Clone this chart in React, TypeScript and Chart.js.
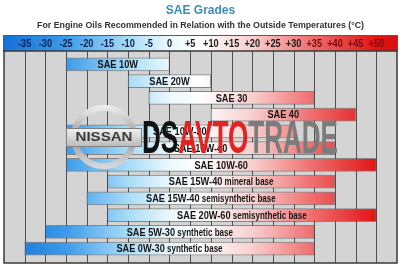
import { useEffect, useRef } from "react";
import { Chart, registerables } from "chart.js";

Chart.register(...registerables);

const TITLE = "SAE Grades";
const SUBTITLE = "For Engine Oils Recommended in Relation with the Outside Temperatures (°C)";

const grades = [
  "SAE 10W",
  "SAE 20W",
  "SAE 30",
  "SAE 40",
  "SAE 10W-30",
  "SAE 10W-40",
  "SAE 10W-60",
  "SAE 15W-40",
  "SAE 15W-40",
  "SAE 20W-60",
  "SAE 5W-30",
  "SAE 0W-30",
];
const notes = ["", "", "", "", "", "", "", "mineral base", "semisynthetic base", "semisynthetic base", "synthetic base", "synthetic base"];
const lowTemps = [-25, -10, -5, 10, -25, -25, -25, -15, -20, -15, -30, -35];
const highTemps = [0, 10, 35, 45, 30, 40, 50, 40, 40, 50, 35, 35];

const tickValues = [-35, -30, -25, -20, -15, -10, -5, 0, 5, 10, 15, 20, 25, 30, 35, 40, 45, 50];
const tickLabels = ["-35", "-30", "-25", "-20", "-15", "-10", "-5", "0", "+5", "+10", "+15", "+20", "+25", "+30", "+35", "+40", "+45", "+50"];

const TEMP_MIN = -40;
const TEMP_MAX = 55;
const gradientTemps = [-40, -25, -10, 0, 7, 20, 35, 50, 55];
const gradientColors = ["#1670d8", "#3c9bea", "#a8dcf7", "#eaf8fd", "#ffffff", "#f9cfcf", "#ef6b6b", "#e01414", "#d80e0e"];

const WATERMARK = ["DS", "AVTO", "TRADE"];
const WATERMARK_COLORS = ["#111111", "#e32222", "#7c7c7c"];
const LOGO_TEXT = "NISSAN";

const SANS = "'Liberation Sans', Arial, sans-serif";
const SQUEEZE = 0.8;

function makeGradient(ctx: CanvasRenderingContext2D, left: number, right: number) {
  const g = ctx.createLinearGradient(left, 0, right, 0);
  gradientTemps.forEach((t, i) => {
    g.addColorStop((t - TEMP_MIN) / (TEMP_MAX - TEMP_MIN), gradientColors[i]);
  });
  return g;
}

function narrowWidth(ctx: CanvasRenderingContext2D, text: string, font: string) {
  ctx.font = font;
  return ctx.measureText(text).width * SQUEEZE;
}

function drawNarrow(ctx: CanvasRenderingContext2D, text: string, x: number, y: number, font: string, align: CanvasTextAlign) {
  ctx.save();
  ctx.font = font;
  ctx.textAlign = align;
  ctx.textBaseline = "middle";
  ctx.translate(x, y);
  ctx.scale(SQUEEZE, 1);
  ctx.fillText(text, 0, 0);
  ctx.restore();
}

const decorPlugin = {
  id: "decor",
  beforeDatasetsDraw(chart: any) {
    const { ctx, chartArea, scales } = chart;
    const x = scales.x;
    const left = chartArea.left;
    const right = chartArea.right;
    const bodyTop = chartArea.top - 5;
    const bodyBottom = chartArea.bottom + 6;
    const headTop = 35;
    const headBottom = bodyTop;
    ctx.save();
    // title
    ctx.textAlign = "center";
    ctx.textBaseline = "middle";
    ctx.fillStyle = "#3b8cb8";
    ctx.font = `bold 12px ${SANS}`;
    ctx.fillText(TITLE, (left + right) / 2, 11);
    ctx.fillStyle = "#333333";
    ctx.font = `bold 8.8px ${SANS}`;
    ctx.fillText(SUBTITLE, (left + right) / 2, 25.5);
    // header bar
    ctx.fillStyle = makeGradient(ctx, left, right);
    ctx.fillRect(left - 1, headTop, right - left + 2, headBottom - headTop);
    ctx.strokeStyle = "#5a5a5a";
    ctx.lineWidth = 1;
    ctx.strokeRect(left - 0.5, headTop + 0.5, right - left + 1, headBottom - headTop);
    // body
    ctx.fillStyle = "#d4d4d4";
    ctx.fillRect(left, bodyTop, right - left, bodyBottom - bodyTop);
    ctx.strokeStyle = "#505050";
    ctx.lineWidth = 1;
    tickValues.forEach((v) => {
      const px = Math.round(x.getPixelForValue(v)) + 0.5;
      ctx.beginPath();
      ctx.moveTo(px, bodyTop);
      ctx.lineTo(px, bodyBottom);
      ctx.stroke();
    });
    ctx.lineWidth = 1.5;
    ctx.strokeStyle = "#3a3a3a";
    ctx.strokeRect(left, bodyTop, right - left, bodyBottom - bodyTop);
    // header labels
    const hf = `bold 11.5px ${SANS}`;
    tickValues.forEach((v, i) => {
      ctx.fillStyle = v < 0 ? "#0f2250" : v >= 35 ? "#7a0a0a" : "#1c1c1c";
      drawNarrow(ctx, tickLabels[i], x.getPixelForValue(v), (headTop + headBottom) / 2 + 0.5, hf, "center");
    });
    ctx.restore();
  },
  afterDatasetsDraw(chart: any) {
    const { ctx } = chart;
    const meta = chart.getDatasetMeta(0);
    ctx.save();
    ctx.fillStyle = "#141414";
    const mainFont = `bold 11.5px ${SANS}`;
    const noteFont = `bold 10px ${SANS}`;
    meta.data.forEach((bar: any, i: number) => {
      const cx = (bar.x + bar.base) / 2;
      const mainW = narrowWidth(ctx, grades[i], mainFont);
      const note = notes[i] ? " " + notes[i] : "";
      const noteW = note ? narrowWidth(ctx, note, noteFont) : 0;
      const start = cx - (mainW + noteW) / 2;
      drawNarrow(ctx, grades[i], start, bar.y + 0.5, mainFont, "left");
      if (note) drawNarrow(ctx, note, start + mainW, bar.y + 1, noteFont, "left");
    });
    ctx.restore();
  },
  afterDraw(chart: any) {
    const { ctx } = chart;
    ctx.save();
    // logo
    const lx = 104, ly = 137;
    const ring = ctx.createLinearGradient(lx, ly - 32, lx, ly + 32);
    ring.addColorStop(0, "#f2f2f2");
    ring.addColorStop(0.5, "#9a9a9a");
    ring.addColorStop(1, "#dcdcdc");
    ctx.strokeStyle = ring;
    ctx.lineWidth = 6;
    ctx.beginPath();
    ctx.ellipse(lx, ly, 30, 29, 0, 0, Math.PI * 2);
    ctx.stroke();
    const band = ctx.createLinearGradient(0, ly - 10, 0, ly + 10);
    band.addColorStop(0, "#f6f6f6");
    band.addColorStop(1, "#b9b9b9");
    ctx.fillStyle = band;
    ctx.fillRect(lx - 38, ly - 9, 76, 19);
    ctx.strokeStyle = "#808080";
    ctx.lineWidth = 1;
    ctx.strokeRect(lx - 38 + 0.5, ly - 9 + 0.5, 75, 18);
    ctx.font = `bold 12px ${SANS}`;
    const lw = ctx.measureText(LOGO_TEXT).width;
    ctx.translate(lx, ly + 0.5);
    ctx.scale(57 / lw, 1);
    ctx.textAlign = "center";
    ctx.textBaseline = "middle";
    ctx.fillStyle = "#3a3a3a";
    ctx.fillText(LOGO_TEXT, 0, 0);
    ctx.restore();
    // watermark text
    ctx.save();
    ctx.font = `bold 47px ${SANS}`;
    const widths = WATERMARK.map((t) => ctx.measureText(t).width);
    const total = widths.reduce((a, b) => a + b, 0);
    ctx.translate(142, 153);
    ctx.scale(196 / total, 1);
    ctx.textAlign = "left";
    ctx.textBaseline = "alphabetic";
    let off = 0;
    WATERMARK.forEach((t, i) => {
      ctx.fillStyle = WATERMARK_COLORS[i];
      ctx.fillText(t, off, 0);
      off += widths[i];
    });
    ctx.restore();
  },
};

export default function App() {
  const ref = useRef<HTMLCanvasElement>(null);
  useEffect(() => {
    if (!ref.current) return;
    let cached: any = null;
    let cachedKey = "";
    const chart = new Chart(ref.current, {
      type: "bar",
      data: {
        labels: grades.map((g, i) => (notes[i] ? `${g} ${notes[i]}` : g)),
        datasets: [
          {
            data: grades.map((_, i) => [lowTemps[i], highTemps[i]]) as any,
            backgroundColor: (c: any) => {
              const ca = c.chart.chartArea;
              if (!ca) return "#cccccc";
              const key = `${ca.left}-${ca.right}`;
              if (!cached || key !== cachedKey) {
                cached = makeGradient(c.chart.ctx, ca.left, ca.right);
                cachedKey = key;
              }
              return cached;
            },
            borderColor: "rgba(70,70,70,0.55)",
            borderWidth: 1,
            borderSkipped: false,
            barThickness: 13,
          },
        ],
      },
      options: {
        indexAxis: "y",
        animation: false,
        responsive: true,
        maintainAspectRatio: false,
        layout: { padding: { left: 4, right: 3, top: 56, bottom: 10 } },
        plugins: { legend: { display: false }, tooltip: { enabled: false }, title: { display: false } },
        scales: {
          x: { type: "linear", min: TEMP_MIN, max: TEMP_MAX, display: false },
          y: { type: "category", display: false },
        },
      },
      plugins: [decorPlugin],
    });
    return () => chart.destroy();
  }, []);
  return (
    <div style={{ position: "fixed", left: 0, top: 0, width: 400, height: 267, background: "#ffffff" }}>
      <canvas ref={ref} />
    </div>
  );
}
